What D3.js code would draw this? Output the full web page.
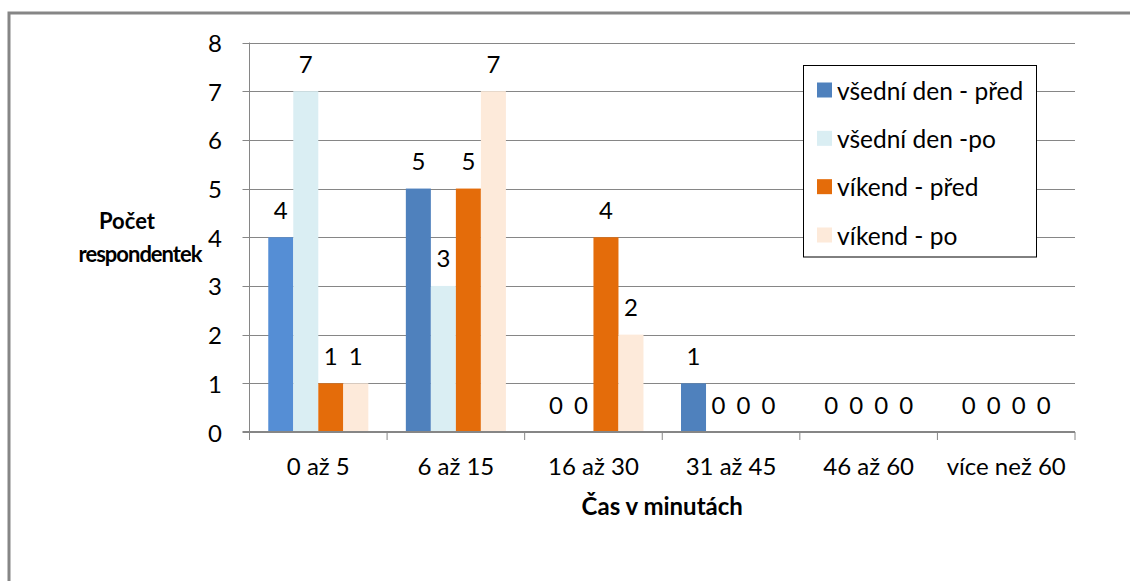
<!DOCTYPE html>
<html>
<head>
<meta charset="utf-8">
<script src="https://cdn.jsdelivr.net/npm/d3@7"></script>
<style>
  html, body { margin: 0; padding: 0; background: #fff; }
  svg { display: block; }
  text { font-family: Lato, "Open Sans", "Liberation Sans", sans-serif; fill: #000; }
</style>
</head>
<body>
<svg id="chart" width="1130" height="581"></svg>
<script>
// Categories along the x axis (time in minutes)
const categories = ["0 až 5", "6 až 15", "16 až 30", "31 až 45", "46 až 60", "více než 60"];

// Series names
const seriesNames = ["všední den - před", "všední den -po", "víkend - před", "víkend - po"];

// Number of respondents per category, one array per series
const weekdayBefore = [4, 5, 0, 1, 0, 0];
const weekdayAfter  = [7, 3, 0, 0, 0, 0];
const weekendBefore = [1, 5, 4, 0, 0, 0];
const weekendAfter  = [1, 7, 2, 0, 0, 0];

// Y axis tick values
const yTicks = [0, 1, 2, 3, 4, 5, 6, 7, 8];

const seriesValues = [weekdayBefore, weekdayAfter, weekendBefore, weekendAfter];
const colors = ["#4F81BD", "#DAEEF3", "#E46C0A", "#FDEADA"];
// the first weekday bar uses a lighter blue
const pointColor = (si, ci) => (si === 0 && ci === 0) ? "#558ED5" : colors[si];

const svg = d3.select("#chart");

const plotLeft = 249.5, plotRight = 1075, plotTop = 42.5, plotBottom = 432;
const fontSize = 24;

const x0 = d3.scaleBand().domain(categories).range([plotLeft, plotRight]).padding(0);
const x1 = d3.scaleBand().domain(d3.range(seriesNames.length))
  .range([0, x0.bandwidth()]).paddingInner(0).paddingOuter(0.75);
const y = d3.scaleLinear().domain([0, 8]).range([plotBottom, plotTop]);

// outer chart frame (right and bottom edges run past the page)
svg.append("rect")
  .attr("x", 9).attr("y", 13).attr("width", 1140).attr("height", 600)
  .attr("fill", "none").attr("stroke", "#868686").attr("stroke-width", 3);

// horizontal gridlines with left tick marks
svg.append("g").selectAll("line").data(yTicks.filter(d => d > 0)).join("line")
  .attr("x1", plotLeft - 7).attr("x2", plotRight)
  .attr("y1", d => Math.round(y(d)) + 0.5).attr("y2", d => Math.round(y(d)) + 0.5)
  .attr("stroke", "#868686").attr("stroke-width", 1);

// y tick labels
svg.append("g").selectAll("text").data(yTicks).join("text")
  .attr("x", 222).attr("y", d => y(d))
  .attr("text-anchor", "end").attr("dominant-baseline", "central")
  .attr("font-size", fontSize)
  .text(d => d);

// bars
const groups = svg.append("g").selectAll("g").data(categories).join("g")
  .attr("transform", c => `translate(${x0(c)},0)`);

groups.selectAll("rect")
  .data((c, ci) => seriesValues.map((vals, si) => ({ si, ci, v: vals[ci] })))
  .join("rect")
  .attr("x", d => x1(d.si))
  .attr("width", x1.bandwidth())
  .attr("y", d => y(d.v))
  .attr("height", d => y(0) - y(d.v))
  .attr("fill", d => pointColor(d.si, d.ci));

// value labels above each bar
groups.selectAll("text")
  .data((c, ci) => seriesValues.map((vals, si) => ({ si, ci, v: vals[ci] })))
  .join("text")
  .attr("x", d => x1(d.si) + x1.bandwidth() / 2)
  .attr("y", d => y(d.v) - 18.5)
  .attr("text-anchor", "middle")
  .attr("font-size", fontSize)
  .text(d => d.v);

// y axis line
svg.append("line")
  .attr("x1", plotLeft).attr("x2", plotLeft).attr("y1", plotTop).attr("y2", plotBottom)
  .attr("stroke", "#868686").attr("stroke-width", 1);

// x axis line with tick marks at category boundaries
svg.append("line")
  .attr("x1", plotLeft - 7).attr("x2", plotRight).attr("y1", plotBottom).attr("y2", plotBottom)
  .attr("stroke", "#868686").attr("stroke-width", 2);

const boundaries = categories.map(c => x0(c)).concat([plotRight]);
svg.append("g").selectAll("line").data(boundaries).join("line")
  .attr("x1", d => d).attr("x2", d => d)
  .attr("y1", plotBottom).attr("y2", plotBottom + 8)
  .attr("stroke", "#868686").attr("stroke-width", 1);

// category labels
svg.append("g").selectAll("text").data(categories).join("text")
  .attr("x", c => x0(c) + x0.bandwidth() / 2)
  .attr("y", 475)
  .attr("text-anchor", "middle")
  .attr("font-size", fontSize)
  .text(c => c);

// axis titles
svg.append("text")
  .attr("x", (plotLeft + plotRight) / 2).attr("y", 515)
  .attr("text-anchor", "middle")
  .attr("font-size", 24).attr("font-weight", "bold")
  .text("Čas v minutách");

const yTitle = svg.append("text")
  .attr("text-anchor", "middle")
  .attr("font-size", 22).attr("font-weight", "bold");
yTitle.append("tspan").attr("x", 127).attr("y", 229).text("Počet");
yTitle.append("tspan").attr("x", 140).attr("y", 262).attr("letter-spacing", -1).text("respondentek");

// legend
const legend = svg.append("g");
legend.append("rect")
  .attr("x", 803.5).attr("y", 65.5).attr("width", 233).attr("height", 191.5)
  .attr("fill", "#fff").attr("stroke", "#000").attr("stroke-width", 1);

const legendRow = d3.scalePoint().domain(d3.range(seriesNames.length)).range([90, 235]);
const items = legend.selectAll("g.item").data(seriesNames).join("g")
  .attr("class", "item")
  .attr("transform", (d, i) => `translate(817,${legendRow(i)})`);
items.append("rect")
  .attr("x", 0).attr("y", -7.5).attr("width", 15).attr("height", 15)
  .attr("fill", (d, i) => colors[i]);
items.append("text")
  .attr("x", 20).attr("y", 0)
  .attr("dominant-baseline", "central")
  .attr("font-size", 24.5)
  .text(d => d);
</script>
</body>
</html>
